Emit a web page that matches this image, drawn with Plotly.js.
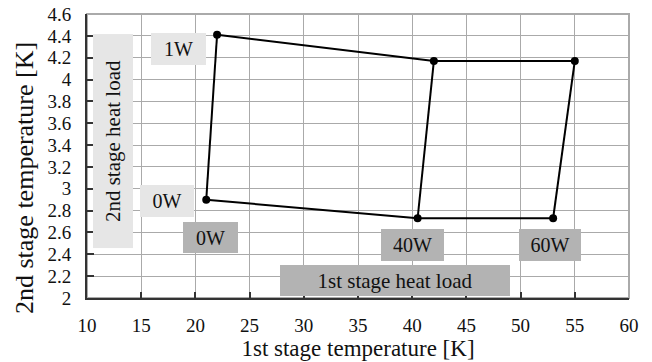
<!DOCTYPE html>
<html>
<head>
<meta charset="utf-8">
<script src="https://cdn.plot.ly/plotly-3.0.1.min.js"></script>
<style>html,body{margin:0;padding:0;background:#fff;}#chart{width:652px;height:362px;}</style>
</head>
<body>
<div id="chart"></div>
<script>
// 1st-stage heat load settings (points along each 2nd-stage line)
const firstStageLoads = ['0W', '40W', '60W'];
// 2nd stage heat load = 0W
const t1At2nd0W = [21.0, 40.5, 53.0];
const t2At2nd0W = [2.90, 2.73, 2.73];
// 2nd stage heat load = 1W
const t1At2nd1W = [22.0, 42.0, 55.0];
const t2At2nd1W = [4.41, 4.17, 4.17];

const xTicks = [10, 15, 20, 25, 30, 35, 40, 45, 50, 55, 60];
const yTicks = [2, 2.2, 2.4, 2.6, 2.8, 3, 3.2, 3.4, 3.6, 3.8, 4, 4.2, 4.4, 4.6];

const lineStyle = {color: '#000', width: 2};
const markerStyle = {color: '#000', size: 8};

const traces = [];
traces.push({x: t1At2nd0W, y: t2At2nd0W, mode: 'lines+markers', line: lineStyle, marker: markerStyle, hoverinfo: 'skip'});
traces.push({x: t1At2nd1W, y: t2At2nd1W, mode: 'lines+markers', line: lineStyle, marker: markerStyle, hoverinfo: 'skip'});
for (let i = 0; i < firstStageLoads.length; i++) {
  traces.push({x: [t1At2nd0W[i], t1At2nd1W[i]], y: [t2At2nd0W[i], t2At2nd1W[i]], mode: 'lines', line: lineStyle, hoverinfo: 'skip'});
}

const serif = 'Liberation Serif, Times New Roman, serif';
const light = '#e6e6e6', dark = '#b3b3b3';
function box(text, x, y, w, h, bg, angle, size) {
  return {text: text, x: x, y: y, xref: 'x', yref: 'y', showarrow: false,
    width: w, height: h, bgcolor: bg, borderpad: 0, borderwidth: 0,
    textangle: angle || 0, xanchor: 'center', yanchor: 'middle',
    font: {family: serif, size: size || 20, color: '#111'}};
}

const layout = {
  width: 652, height: 362,
  margin: {l: 87, r: 23, t: 14, b: 64},
  paper_bgcolor: '#fff', plot_bgcolor: '#fff',
  showlegend: false,
  font: {family: serif, color: '#111'},
  xaxis: {
    range: [10, 60], tickvals: xTicks, ticktext: xTicks.map(String),
    showgrid: true, gridcolor: '#aaaaaa', gridwidth: 1,
    showline: true, linecolor: '#333', linewidth: 2,
    ticks: 'inside', ticklen: 6, tickcolor: '#333', tickwidth: 2,
    ticklabelstandoff: 9,
    tickfont: {family: serif, size: 19, color: '#111'},
    zeroline: false, fixedrange: true,
    title: {text: '1st stage temperature [K]', font: {family: serif, size: 23, color: '#111'}, standoff: 0}
  },
  yaxis: {
    range: [2, 4.6], tickvals: yTicks, ticktext: yTicks.map(v => String(v)),
    showgrid: true, gridcolor: '#aaaaaa', gridwidth: 1,
    showline: true, linecolor: '#333', linewidth: 2,
    ticks: 'inside', ticklen: 7, tickcolor: '#333', tickwidth: 2,
    ticklabelstandoff: 10,
    tickfont: {family: serif, size: 19, color: '#111'},
    zeroline: false, fixedrange: true
  },
  shapes: [
    {type: 'rect', xref: 'paper', yref: 'paper', x0: 0, x1: 1, y0: 0, y1: 1,
     line: {color: '#aaaaaa', width: 2}, layer: 'below'}
  ],
  annotations: [
    {text: '2nd stage temperature [K]', xref: 'paper', yref: 'paper', x: -0.1162, y: 0.4225,
     xanchor: 'center', yanchor: 'middle', textangle: -90, showarrow: false,
     font: {family: serif, size: 26, color: '#111'}},
    box('2nd stage heat load', 12.40, 3.437, 214, 40, light, -90, 21),
    box('1W', 18.44, 4.28, 55, 32, light),
    box('0W', 17.38, 2.888, 54, 32, light),
    box('0W', 21.39, 2.554, 55, 31, dark),
    box('40W', 40.03, 2.485, 63, 32, dark),
    box('60W', 52.71, 2.485, 62, 32, dark),
    box('1st stage heat load', 38.41, 2.16, 230, 31, dark, 0, 21)
  ]
};

Plotly.newPlot('chart', traces, layout, {displayModeBar: false, staticPlot: true});
</script>
</body>
</html>
